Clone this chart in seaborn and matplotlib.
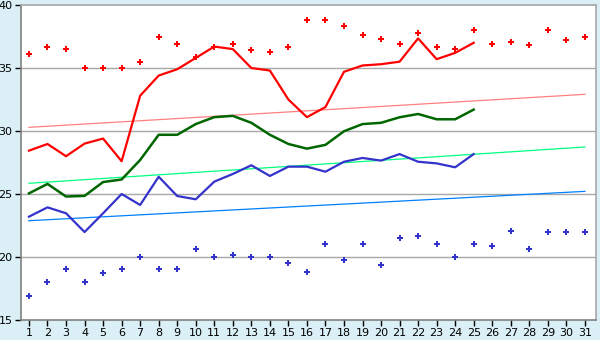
import matplotlib
matplotlib.use("Agg")
import matplotlib.pyplot as plt
import seaborn as sns
import numpy as np
import pandas as pd

days = list(range(1, 32))
days_line = list(range(1, 26))

record_max = [36.1, 36.7, 36.5, 35.0, 35.0, 35.0, 35.5, 37.5, 36.9, 35.9,
              36.7, 36.9, 36.4, 36.3, 36.7, 38.8, 38.8, 38.3, 37.6, 37.3,
              36.9, 37.8, 36.7, 36.5, 38.0, 36.9, 37.1, 36.8, 38.0, 37.2, 37.5]
record_min = [16.9, 18.0, 19.05, 18.0, 18.7, 19.05, 20.0, 19.05, 19.05, 20.63,
              19.98, 20.13, 19.98, 19.98, 19.5, 18.78, 21.0, 19.76, 21.0, 19.34,
              21.48, 21.7, 21.0, 19.98, 21.0, 20.85, 22.1, 20.6, 22.0, 22.0, 22.0]

daily_max = [28.44, 28.97, 28.0, 29.0, 29.4, 27.6, 32.8, 34.4, 34.9, 35.8,
             36.7, 36.5, 35.0, 34.8, 32.5, 31.1, 31.9, 34.7, 35.2, 35.3,
             35.5, 37.35, 35.7, 36.2, 37.0]
daily_mean = [25.05, 25.8, 24.8, 24.85, 25.95, 26.15, 27.7, 29.7, 29.7, 30.55,
              31.1, 31.2, 30.65, 29.7, 28.97, 28.6, 28.9, 29.98, 30.55, 30.65,
              31.09, 31.35, 30.93, 30.93, 31.7]
daily_min = [23.2, 23.94, 23.47, 21.98, 23.47, 25.0, 24.13, 26.37, 24.84, 24.58,
             25.98, 26.59, 27.28, 26.43, 27.17, 27.17, 26.77, 27.56, 27.86, 27.65,
             28.17, 27.56, 27.43, 27.12, 28.17]

trend_days = [1, 31]
normal_max = [30.29, 32.91]
normal_mean = [25.85, 28.73]
normal_min = [22.88, 25.21]

yticks = [15, 20, 25, 30, 35, 40]

bg = "#DAEFF6"
fig = plt.figure(figsize=(6.0, 3.4), dpi=100, facecolor=bg)
ax = fig.add_axes([21/600, 20/340, 575/600, 315/340])
ax.set_facecolor("white")

for y in yticks[1:-1]:
    ax.axhline(y, color="#A8A8A8", lw=1.0, zorder=1)

sns.lineplot(x=trend_days, y=normal_max, ax=ax, color="#FF8080", lw=0.9, zorder=2)
sns.lineplot(x=trend_days, y=normal_mean, ax=ax, color="#00FF80", lw=0.9, zorder=2)
sns.lineplot(x=trend_days, y=normal_min, ax=ax, color="#0080FF", lw=0.9, zorder=2)

sns.lineplot(x=days_line, y=daily_max, ax=ax, color="#FF0000", lw=1.6, zorder=3)
sns.lineplot(x=days_line, y=daily_mean, ax=ax, color="#006600", lw=1.8, zorder=3)
sns.lineplot(x=days_line, y=daily_min, ax=ax, color="#3333CC", lw=1.6, zorder=3)

sns.scatterplot(x=days, y=record_max, ax=ax, color="#FF0000", marker="P",
                s=20, linewidth=0, zorder=4)
sns.scatterplot(x=days, y=record_min, ax=ax, color="#3333CC", marker="P",
                s=20, linewidth=0, zorder=4)

ax.set_xlim(0.57, 31.6)
ax.set_ylim(15, 40)
ax.set_xticks(days)
ax.set_xticklabels([str(d) for d in days])
ax.set_yticks(yticks)
ax.set_yticklabels([str(y) for y in yticks])
ax.tick_params(axis="both", length=4, width=1, color="#000000", labelsize=8,
               pad=2, labelcolor="#000000")
for side in ["top", "right"]:
    ax.spines[side].set_color("#A8A8A8")
    ax.spines[side].set_linewidth(1.2)
for side in ["left", "bottom"]:
    ax.spines[side].set_color("#808080")
    ax.spines[side].set_linewidth(1.2)
ax.set_xlabel("")
ax.set_ylabel("")

fig.savefig("out.png", dpi=100, facecolor=bg)
